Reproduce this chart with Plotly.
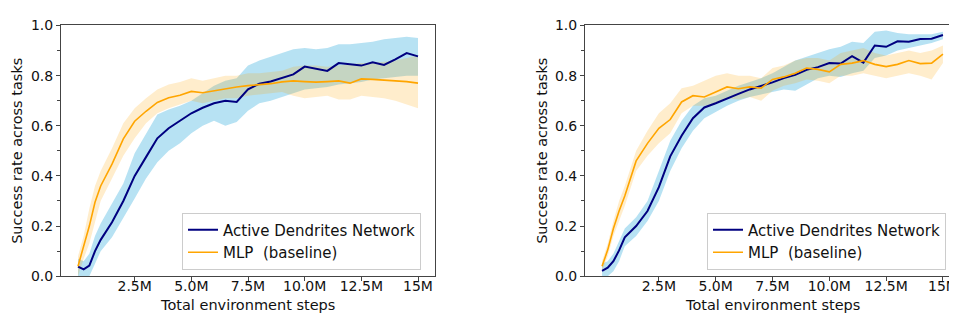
import plotly.graph_objects as go

# ---------------- data (millions of environment steps) ----------------
steps = [0, 0.25, 0.5, 0.75, 1.0, 1.5, 2.0, 2.5, 3.0, 3.5, 4.0, 4.5, 5.0, 5.5, 6.0, 6.5,
         7.0, 7.5, 8.0, 8.5, 9.0, 9.5, 10.0, 10.5, 11.0, 11.5, 12.0, 12.5, 13.0, 13.5,
         14.0, 14.5, 15.0]

# Left panel
left_adn_mean = [0.038, 0.027, 0.042, 0.10, 0.145, 0.215, 0.30, 0.40, 0.475, 0.55, 0.59, 0.62,
                 0.65, 0.672, 0.69, 0.70, 0.695, 0.745, 0.768, 0.777, 0.79, 0.805, 0.836, 0.826,
                 0.819, 0.85, 0.846, 0.84, 0.853, 0.843, 0.865, 0.89, 0.877]
left_adn_low = [0.0, 0.0, 0.0, 0.05, 0.10, 0.155, 0.23, 0.31, 0.39, 0.455, 0.50, 0.53, 0.57,
                0.60, 0.62, 0.60, 0.615, 0.66, 0.69, 0.70, 0.715, 0.73, 0.745, 0.75, 0.755,
                0.765, 0.77, 0.775, 0.785, 0.79, 0.795, 0.80, 0.80]
left_adn_high = [0.07, 0.06, 0.09, 0.16, 0.21, 0.29, 0.37, 0.49, 0.57, 0.645, 0.665, 0.68,
                 0.70, 0.73, 0.76, 0.78, 0.79, 0.84, 0.86, 0.875, 0.89, 0.905, 0.91, 0.905,
                 0.91, 0.925, 0.925, 0.93, 0.935, 0.945, 0.95, 0.955, 0.95]
left_mlp_mean = [0.04, 0.12, 0.20, 0.295, 0.36, 0.447, 0.548, 0.618, 0.658, 0.693, 0.712, 0.722,
                 0.737, 0.732, 0.74, 0.75, 0.755, 0.76, 0.763, 0.768, 0.775, 0.779, 0.776,
                 0.774, 0.776, 0.779, 0.77, 0.787, 0.785, 0.783, 0.779, 0.776, 0.77]
left_mlp_low = [0.0, 0.07, 0.13, 0.22, 0.30, 0.39, 0.48, 0.55, 0.61, 0.65, 0.67, 0.685, 0.70,
                0.69, 0.70, 0.71, 0.71, 0.72, 0.725, 0.73, 0.735, 0.72, 0.71, 0.715, 0.72,
                0.705, 0.705, 0.72, 0.715, 0.71, 0.70, 0.685, 0.67]
left_mlp_high = [0.08, 0.16, 0.27, 0.36, 0.42, 0.51, 0.61, 0.67, 0.71, 0.745, 0.765, 0.775,
                 0.79, 0.78, 0.79, 0.80, 0.80, 0.81, 0.81, 0.815, 0.82, 0.835, 0.84, 0.84,
                 0.835, 0.84, 0.845, 0.85, 0.85, 0.855, 0.86, 0.87, 0.88]

# Right panel
right_adn_mean = [0.021, 0.034, 0.06, 0.103, 0.155, 0.20, 0.26, 0.355, 0.478, 0.56, 0.63, 0.673,
                  0.69, 0.71, 0.727, 0.745, 0.758, 0.773, 0.79, 0.803, 0.823, 0.834, 0.85, 0.848,
                  0.878, 0.852, 0.92, 0.915, 0.937, 0.935, 0.946, 0.947, 0.962]
right_adn_low = [0.0, 0.0, 0.02, 0.06, 0.12, 0.16, 0.22, 0.30, 0.42, 0.51, 0.58, 0.63, 0.655,
                 0.68, 0.70, 0.715, 0.725, 0.735, 0.745, 0.74, 0.765, 0.79, 0.80, 0.795, 0.81,
                 0.82, 0.87, 0.88, 0.90, 0.91, 0.92, 0.93, 0.945]
right_adn_high = [0.05, 0.06, 0.09, 0.14, 0.19, 0.235, 0.30, 0.42, 0.54, 0.62, 0.68, 0.71, 0.72,
                  0.74, 0.76, 0.775, 0.79, 0.81, 0.835, 0.86, 0.875, 0.89, 0.905, 0.915, 0.935,
                  0.93, 0.975, 0.98, 0.97, 0.965, 0.965, 0.965, 0.975]
right_mlp_mean = [0.04, 0.105, 0.19, 0.26, 0.32, 0.46, 0.53, 0.59, 0.625, 0.695, 0.72, 0.715,
                  0.735, 0.755, 0.748, 0.755, 0.75, 0.785, 0.795, 0.81, 0.83, 0.825, 0.815,
                  0.845, 0.85, 0.86, 0.845, 0.836, 0.845, 0.86, 0.848, 0.85, 0.886]
right_mlp_low = [0.02, 0.08, 0.16, 0.22, 0.28, 0.42, 0.48, 0.53, 0.57, 0.65, 0.68, 0.68, 0.69,
                 0.71, 0.705, 0.715, 0.70, 0.74, 0.76, 0.77, 0.785, 0.78, 0.77, 0.80, 0.80,
                 0.81, 0.80, 0.79, 0.80, 0.81, 0.80, 0.785, 0.85]
right_mlp_high = [0.06, 0.13, 0.22, 0.30, 0.36, 0.50, 0.58, 0.65, 0.69, 0.75, 0.76, 0.78, 0.80,
                  0.81, 0.80, 0.80, 0.79, 0.83, 0.84, 0.86, 0.87, 0.87, 0.86, 0.89, 0.90,
                  0.91, 0.89, 0.88, 0.89, 0.90, 0.89, 0.90, 0.92]

x_tick_vals = [2.5, 5.0, 7.5, 10.0, 12.5, 15.0]
x_tick_text = ["2.5M", "5.0M", "7.5M", "10.0M", "12.5M", "15M"]
y_tick_vals = [0.0, 0.2, 0.4, 0.6, 0.8, 1.0]
y_tick_text = ["0.0", "0.2", "0.4", "0.6", "0.8", "1.0"]
series_names = ["Active Dendrites Network", "MLP  (baseline)"]

# ---------------- styling ----------------
FONT = "DejaVu Sans"
NAVY = "#000080"
ORANGE = "#FFA500"
BLUE_BAND = "rgba(135,206,235,0.6)"
ORANGE_BAND = "rgba(255,165,0,0.2)"
W, H = 957, 318

fig = go.Figure()

panels = [
    dict(xa="x", ya="y", legend="legend",
         adn=(left_adn_mean, left_adn_low, left_adn_high),
         mlp=(left_mlp_mean, left_mlp_low, left_mlp_high)),
    dict(xa="x2", ya="y2", legend="legend2",
         adn=(right_adn_mean, right_adn_low, right_adn_high),
         mlp=(right_mlp_mean, right_mlp_low, right_mlp_high)),
]

for p in panels:
    for key, band in (("adn", BLUE_BAND), ("mlp", ORANGE_BAND)):
        mean, low, high = p[key]
        fig.add_trace(go.Scatter(x=steps, y=low, xaxis=p["xa"], yaxis=p["ya"],
                                 mode="lines", line=dict(width=0), showlegend=False,
                                 hoverinfo="skip"))
        fig.add_trace(go.Scatter(x=steps, y=high, xaxis=p["xa"], yaxis=p["ya"],
                                 mode="lines", line=dict(width=0), fill="tonexty",
                                 fillcolor=band, showlegend=False, hoverinfo="skip"))
    for key, color, name, lw in (("adn", NAVY, series_names[0], 2.0),
                                 ("mlp", ORANGE, series_names[1], 1.6)):
        mean = p[key][0]
        fig.add_trace(go.Scatter(x=steps, y=mean, xaxis=p["xa"], yaxis=p["ya"],
                                 mode="lines", line=dict(color=color, width=lw),
                                 name=name, legend=p["legend"]))

ax_common = dict(showline=True, linecolor="#444", linewidth=1, mirror=True,
                 ticks="outside", ticklen=4, tickcolor="#444", showgrid=False,
                 zeroline=False, tickfont=dict(family=FONT, size=14, color="#111"))

xdom_left = [53 / W, 427 / W]
xdom_right = [577 / W, 952 / W]
ydom = [1 - 274 / H, 1 - 10 / H]

for xname, yname, xdom, anchor_x, anchor_y in (("xaxis", "yaxis", xdom_left, "y", "x"),
                                               ("xaxis2", "yaxis2", xdom_right, "y2", "x2")):
    fig.layout[xname] = dict(domain=xdom, anchor=anchor_x, range=[-0.75, 15.75],
                             tickvals=x_tick_vals, ticktext=x_tick_text,
                             ticklabelstandoff=-7, **ax_common)
    fig.layout[yname] = dict(domain=ydom, anchor=anchor_y, range=[0, 1],
                             tickvals=y_tick_vals, ticktext=y_tick_text,
                             minor=dict(dtick=0.1, ticks="outside", ticklen=3,
                                        tickcolor="#444", showgrid=False),
                             **ax_common)

legend_common = dict(bgcolor="rgba(255,255,255,0.8)", bordercolor="#cccccc", borderwidth=1,
                     font=dict(family=FONT, size=15, color="#111"),
                     xanchor="left", yanchor="bottom", tracegroupgap=0,
                     traceorder="normal")
fig.layout.legend = dict(x=174 / W, y=1 - 267 / H, **legend_common)
fig.layout.legend2 = dict(x=699 / W, y=1 - 267 / H, **legend_common)

annotations = []
for cx in (240, 764.5):
    annotations.append(dict(text="Total environment steps", x=cx / W, y=1 - 304 / H,
                            xref="paper", yref="paper", showarrow=False,
                            font=dict(family=FONT, size=14.5, color="#111"),
                            xanchor="center", yanchor="middle"))
for cx in (9, 534):
    annotations.append(dict(text="Success rate across tasks", x=cx / W, y=1 - 142 / H,
                            xref="paper", yref="paper", showarrow=False, textangle=-90,
                            font=dict(family=FONT, size=14.5, color="#111"),
                            xanchor="center", yanchor="middle"))

fig.update_layout(width=W, height=H, margin=dict(l=0, r=0, t=0, b=0),
                  paper_bgcolor="white", plot_bgcolor="white",
                  annotations=annotations, showlegend=True)

fig.write_html("out.html")
